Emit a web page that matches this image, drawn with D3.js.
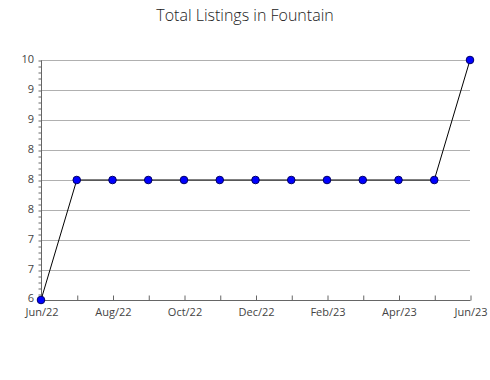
<!DOCTYPE html>
<html>
<head>
<meta charset="utf-8">
<script src="https://cdn.jsdelivr.net/npm/d3@7"></script>
<style>
  body { margin: 0; background: #fff; }
  svg { display: block; font-family: "Open Sans", sans-serif; }
</style>
</head>
<body>
<div id="chart"></div>
<script>
// Daten
const months = ["Jun/22", "Jul/22", "Aug/22", "Sep/22", "Oct/22", "Nov/22", "Dec/22",
                "Jan/23", "Feb/23", "Mar/23", "Apr/23", "May/23", "Jun/23"];
const listings = [6, 8, 8, 8, 8, 8, 8, 8, 8, 8, 8, 8, 10];
const yTicks = [6, 6.5, 7, 7.5, 8, 8.5, 9, 9.5, 10];
const yTickLabels = ["6", "7", "7", "8", "8", "8", "9", "9", "10"];

const width = 490, height = 380;
const margin = { top: 60, right: 20, bottom: 80, left: 41 };

const svg = d3.select("#chart").append("svg")
    .attr("width", width)
    .attr("height", height);

const x = d3.scalePoint()
    .domain(months)
    .range([margin.left, 470]);

const y = d3.scaleLinear()
    .domain([6, 10])
    .range([300, 60]);

// Titel
svg.append("text")
    .attr("x", 245)
    .attr("y", 21)
    .attr("text-anchor", "middle")
    .style("font-size", "16px")
    .style("font-weight", "300")
    .style("fill", "#222")
    .text("Total Listings in Fountain");

// Gitterlinien
svg.append("g")
    .selectAll("line")
    .data(yTicks.filter(d => d !== 6))
    .join("line")
    .attr("x1", margin.left)
    .attr("x2", 470)
    .attr("y1", d => y(d) + 0.5)
    .attr("y2", d => y(d) + 0.5)
    .attr("stroke", "#b0b0b0");

// Y-Achse mit Nebenstrichen
const yAxis = svg.append("g")
    .attr("transform", `translate(${margin.left + 0.5},0.5)`)
    .call(d3.axisLeft(y)
        .tickValues(d3.range(6, 10.001, 0.1))
        .tickSize(3)
        .tickFormat(""));
yAxis.select(".domain").attr("stroke", "#666").attr("d", `M0,${y(10)}V${y(6)}`);
yAxis.selectAll(".tick line").attr("stroke", "#666");

svg.append("g")
    .selectAll("text")
    .data(yTicks)
    .join("text")
    .attr("x", 34)
    .attr("y", d => y(d) + (d === 6 ? 2 : 3))
    .attr("text-anchor", "end")
    .style("font-size", "11px")
    .style("fill", "#444")
    .text((d, i) => yTickLabels[i]);

// X-Achse
const xAxis = svg.append("g")
    .attr("transform", `translate(0.5,${y(6) + 0.5})`)
    .call(d3.axisBottom(x)
        .tickSize(-5)
        .tickFormat((d, i) => i % 2 === 0 ? d : ""));
xAxis.select(".domain").attr("stroke", "#666").attr("d", `M${margin.left},0H470`);
xAxis.selectAll(".tick line").attr("stroke", "#666").attr("y1", 0).attr("y2", -5);
xAxis.selectAll(".tick text")
    .attr("y", 8)
    .attr("dy", "0.71em")
    .style("font-size", "11px")
    .style("font-family", "'Open Sans', sans-serif")
    .style("fill", "#444");

// Linie
const line = d3.line()
    .x((d, i) => x(months[i]))
    .y(d => y(d));

svg.append("path")
    .datum(listings)
    .attr("fill", "none")
    .attr("stroke", "#000")
    .attr("stroke-width", 1)
    .attr("d", line);

// Punkte
svg.append("g")
    .selectAll("circle")
    .data(listings)
    .join("circle")
    .attr("cx", (d, i) => x(months[i]))
    .attr("cy", d => y(d))
    .attr("r", 3.8)
    .attr("fill", "#0000ff")
    .attr("stroke", "#000066")
    .attr("stroke-width", 1);
</script>
</body>
</html>
